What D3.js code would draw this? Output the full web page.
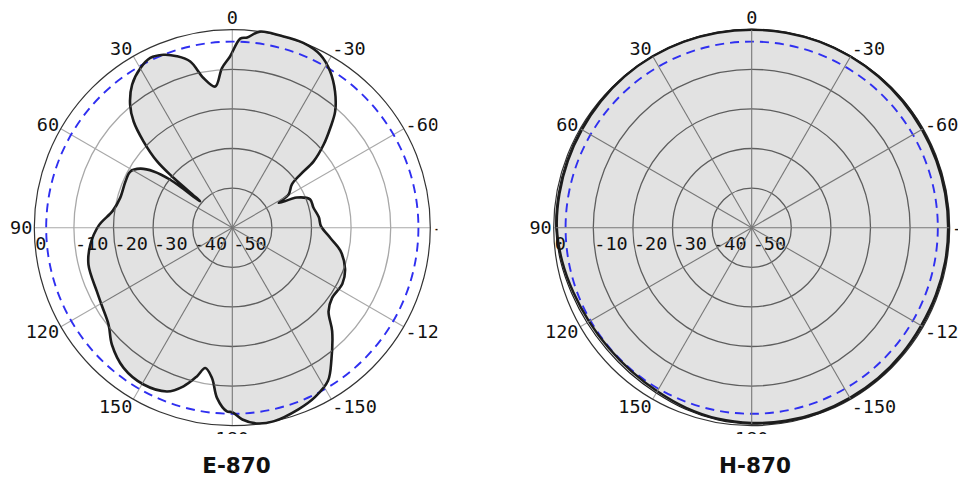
<!DOCTYPE html>
<html>
<head>
<meta charset="utf-8">
<script src="https://cdn.jsdelivr.net/npm/d3@7/dist/d3.min.js"></script>
<style>
  html, body { margin: 0; padding: 0; background: #fff; }
  svg { display: block; }
</style>
</head>
<body>
<svg id="chart" width="964" height="490"></svg>
<script>
// ---------- data ----------
const TITLES = ["E-870", "H-870"];
const RING_LEVELS = [-10, -20, -30, -40];
const RADIAL_LABELS = ["0", "-10", "-20", "-30", "-40", "-50"];
const RADIAL_LABEL_LEVELS = [0, -10, -20, -30, -40, -50];
const ANGLE_TICKS = [0, 30, 60, 90, 120, 150, 180, -150, -120, -90, -60, -30];
const ANGLE_LABELS = ["0", "30", "60", "90", "120", "150", "180", "-150", "-120", "-90", "-60", "-30"];
const HALF_POWER = -3;

// E-plane (degrees, CCW positive; gain dB)
const E_ANGLES = [-180, -177, -173, -168, -160, -154, -148, -143, -136, -131, -125, -117, -110, -102, -96, -89,
  -83, -76, -70, -65, -62, -59.5, -54, -52, -50.8, -47.7, -44.5, -41.5, -37, -32, -27, -21, -14, -8, -4.5, -2.4,
  0.7, 3.7, 6.9, 10.9, 14.2, 17.9, 21.7, 25.8, 29.9, 35, 39.7, 42.9, 45.8, 48.6, 49.7, 50.6, 52.3, 54.4, 57.3,
  61.1, 66.6, 75.1, 82, 89, 96.8, 104.4, 115.2, 121.1, 128.1, 134.2, 142.2, 150.5, 158.3, 162.9, 166.6, 169.1,
  172.3, 174.9, 178.3];
const E_GAIN = [-3.4, -1.5, -0.2, 0, -1.2, -2.4, -4.4, -8.4, -13.7, -17.8, -19.2, -18.8, -19.7, -22.1, -25.1, -27.6,
  -28.0, -28.9, -29.1, -32.0, -36.7, -33.5, -31.4, -28.2, -23.5, -18.8, -14.7, -10.8, -6.9, -3.4, -1.0, 0, 0, 0, -1.8, -2.2,
  -6.7, -9.6, -14.1, -11.5, -6.7, -4.5, -3.0, -2.4, -3.5, -5.9, -9.6, -13.4, -18.7, -24.7, -30.6, -39.5, -30.2, -25.6, -22.4,
  -20.6, -20.6, -20.7, -19.5, -16.3, -13.9, -12.5, -12.2, -11.6, -10.3, -7.6, -5.2, -4.5, -5.5, -8.1, -11.4, -13.9,
  -11.7, -6.8, -3.6];

// H-plane
const H_ANGLES = [-170, -160, -150, -140, -130, -120, -110, -100, -90, -80, -70, -60, -50, -40, -30, -20, -10,
  0, 10, 20, 30, 40, 50, 60, 70, 80, 90, 100, 110, 120, 130, 140, 150, 160, 170, 180];
const H_MAIN = [-0.5, -0.4, -0.4, -0.4, -0.5, -0.6, -0.5, -0.4, -0.4, -0.4, -0.4, -0.4, -0.3, -0.2, -0.1, 0, 0,
  0, 0, 0, 0, -0.1, -0.3, -0.5, -0.6, -0.7, -0.8, -1.4, -2.1, -2.6, -2.8, -2.7, -2.3, -1.6, -1.0, -0.7];
const H_ALT = [-0.2, -0.1, -0.1, -0.1, -0.2, -0.2, -0.2, -0.2, -0.1, -0.1, -0.1, -0.1, 0, 0, 0, 0.1, 0.1,
  0.1, 0.1, 0.1, 0, 0, -0.1, -0.2, -0.3, -0.4, -0.5, -1.0, -1.6, -2.0, -2.2, -2.1, -1.8, -1.2, -0.7, -0.4];

// ---------- drawing ----------
const svg = d3.select("#chart");
const R = 198;
const r = d3.scaleLinear().domain([-50, 0]).range([0, R]);
const toRad = a => -a * Math.PI / 180; // CCW positive in label convention

const charts = [
  { cx: 232.3, cy: 227.7, clip: [0, 0, 437.5, 434], title: TITLES[0], tx: 236.5,
    series: [{ angles: E_ANGLES, gain: E_GAIN, width: 2.6 }] },
  { cx: 751.7, cy: 227.7, clip: [480, 0, 958, 434], title: TITLES[1], tx: 755,
    series: [{ angles: H_ANGLES, gain: H_ALT, width: 1.1 }, { angles: H_ANGLES, gain: H_MAIN, width: 2.4 }] }
];

const line = d3.lineRadial()
  .angle(d => toRad(d[0]))
  .radius(d => r(d[1]))
  .curve(d3.curveCatmullRomClosed.alpha(0.5));

const defs = svg.append("defs");

charts.forEach((c, i) => {
  defs.append("clipPath").attr("id", "box" + i)
    .append("rect").attr("x", c.clip[0]).attr("y", c.clip[1])
    .attr("width", c.clip[2] - c.clip[0]).attr("height", c.clip[3] - c.clip[1]);

  const paths = c.series.map(s => line(s.angles.map((a, k) => [a, s.gain[k]])));
  const cp = defs.append("clipPath").attr("id", "trace" + i);
  paths.forEach(p => cp.append("path").attr("d", p).attr("transform", `translate(${c.cx},${c.cy})`));

  const outer = svg.append("g").attr("clip-path", `url(#box${i})`);
  const g = outer.append("g").attr("transform", `translate(${c.cx},${c.cy})`);

  function grid(sel, ringColor, spokeColor) {
    sel.selectAll("circle.ring").data(RING_LEVELS).join("circle")
      .attr("class", "ring").attr("r", d => r(d))
      .attr("fill", "none").attr("stroke", ringColor).attr("stroke-width", 1.3);
    sel.selectAll("line.spoke").data(ANGLE_TICKS).join("line")
      .attr("class", "spoke")
      .attr("x1", 0).attr("y1", 0)
      .attr("x2", d => R * Math.sin(toRad(d)))
      .attr("y2", d => -R * Math.cos(toRad(d)))
      .attr("stroke", spokeColor).attr("stroke-width", 1.1);
  }

  // light grid (outside trace)
  grid(g.append("g"), "#a8a8a8", "#a8a8a8");

  // fill
  g.append("g").selectAll("path").data(paths).join("path")
    .attr("d", d => d).attr("fill", "#e2e2e2").attr("stroke", "none");

  // dark grid inside trace
  const inner = outer.append("g").attr("clip-path", `url(#trace${i})`)
    .append("g").attr("transform", `translate(${c.cx},${c.cy})`);
  grid(inner, "#5e5e5e", "#777");

  // outer circle
  g.append("circle").attr("r", r(0)).attr("fill", "none").attr("stroke", "#333").attr("stroke-width", 1.2);

  // half-power circle
  g.append("circle").attr("r", r(HALF_POWER)).attr("fill", "none")
    .attr("stroke", "#2f2ff0").attr("stroke-width", 1.9).attr("stroke-dasharray", "9,6");

  // traces
  c.series.forEach((s, k) => {
    g.append("path").attr("d", paths[k]).attr("fill", "none")
      .attr("stroke", "#1c1c1c").attr("stroke-width", s.width).attr("stroke-linejoin", "round");
  });

  // radial level labels
  g.selectAll("text.rl").data(RADIAL_LABEL_LEVELS).join("text")
    .attr("class", "rl")
    .attr("x", d => -r(d) + 1)
    .attr("y", 22)
    .attr("font-family", "DejaVu Sans Mono, monospace")
    .attr("font-size", 18.5)
    .attr("fill", "#111")
    .text((d, k) => RADIAL_LABELS[k]);

  // angle labels
  const capH = 13.5;
  g.selectAll("text.al").data(ANGLE_TICKS).join("text")
    .attr("class", "al")
    .each(function (d, k) {
      const a = toRad(d);
      const s = Math.sin(a), co = Math.cos(a);
      const rr = R + 2;
      const x = rr * s, y = -rr * co;
      let anchor = "middle";
      if (s < -0.01) anchor = "end";
      else if (s > 0.01) anchor = "start";
      let base = y + capH * (1 - co) / 2;
      if (Math.abs(s) < 0.01) base += co > 0 ? -4 : 4;
      d3.select(this)
        .attr("x", x).attr("y", base)
        .attr("text-anchor", anchor)
        .attr("font-family", "DejaVu Sans Mono, monospace")
        .attr("font-size", 18.5)
        .attr("fill", "#111")
        .text(ANGLE_LABELS[k]);
    });

  // title
  svg.append("text")
    .attr("x", c.tx).attr("y", 473)
    .attr("text-anchor", "middle")
    .attr("font-family", "DejaVu Sans, sans-serif")
    .attr("font-weight", "bold")
    .attr("font-size", 21.5)
    .attr("fill", "#111")
    .text(c.title);
});
</script>
</body>
</html>
